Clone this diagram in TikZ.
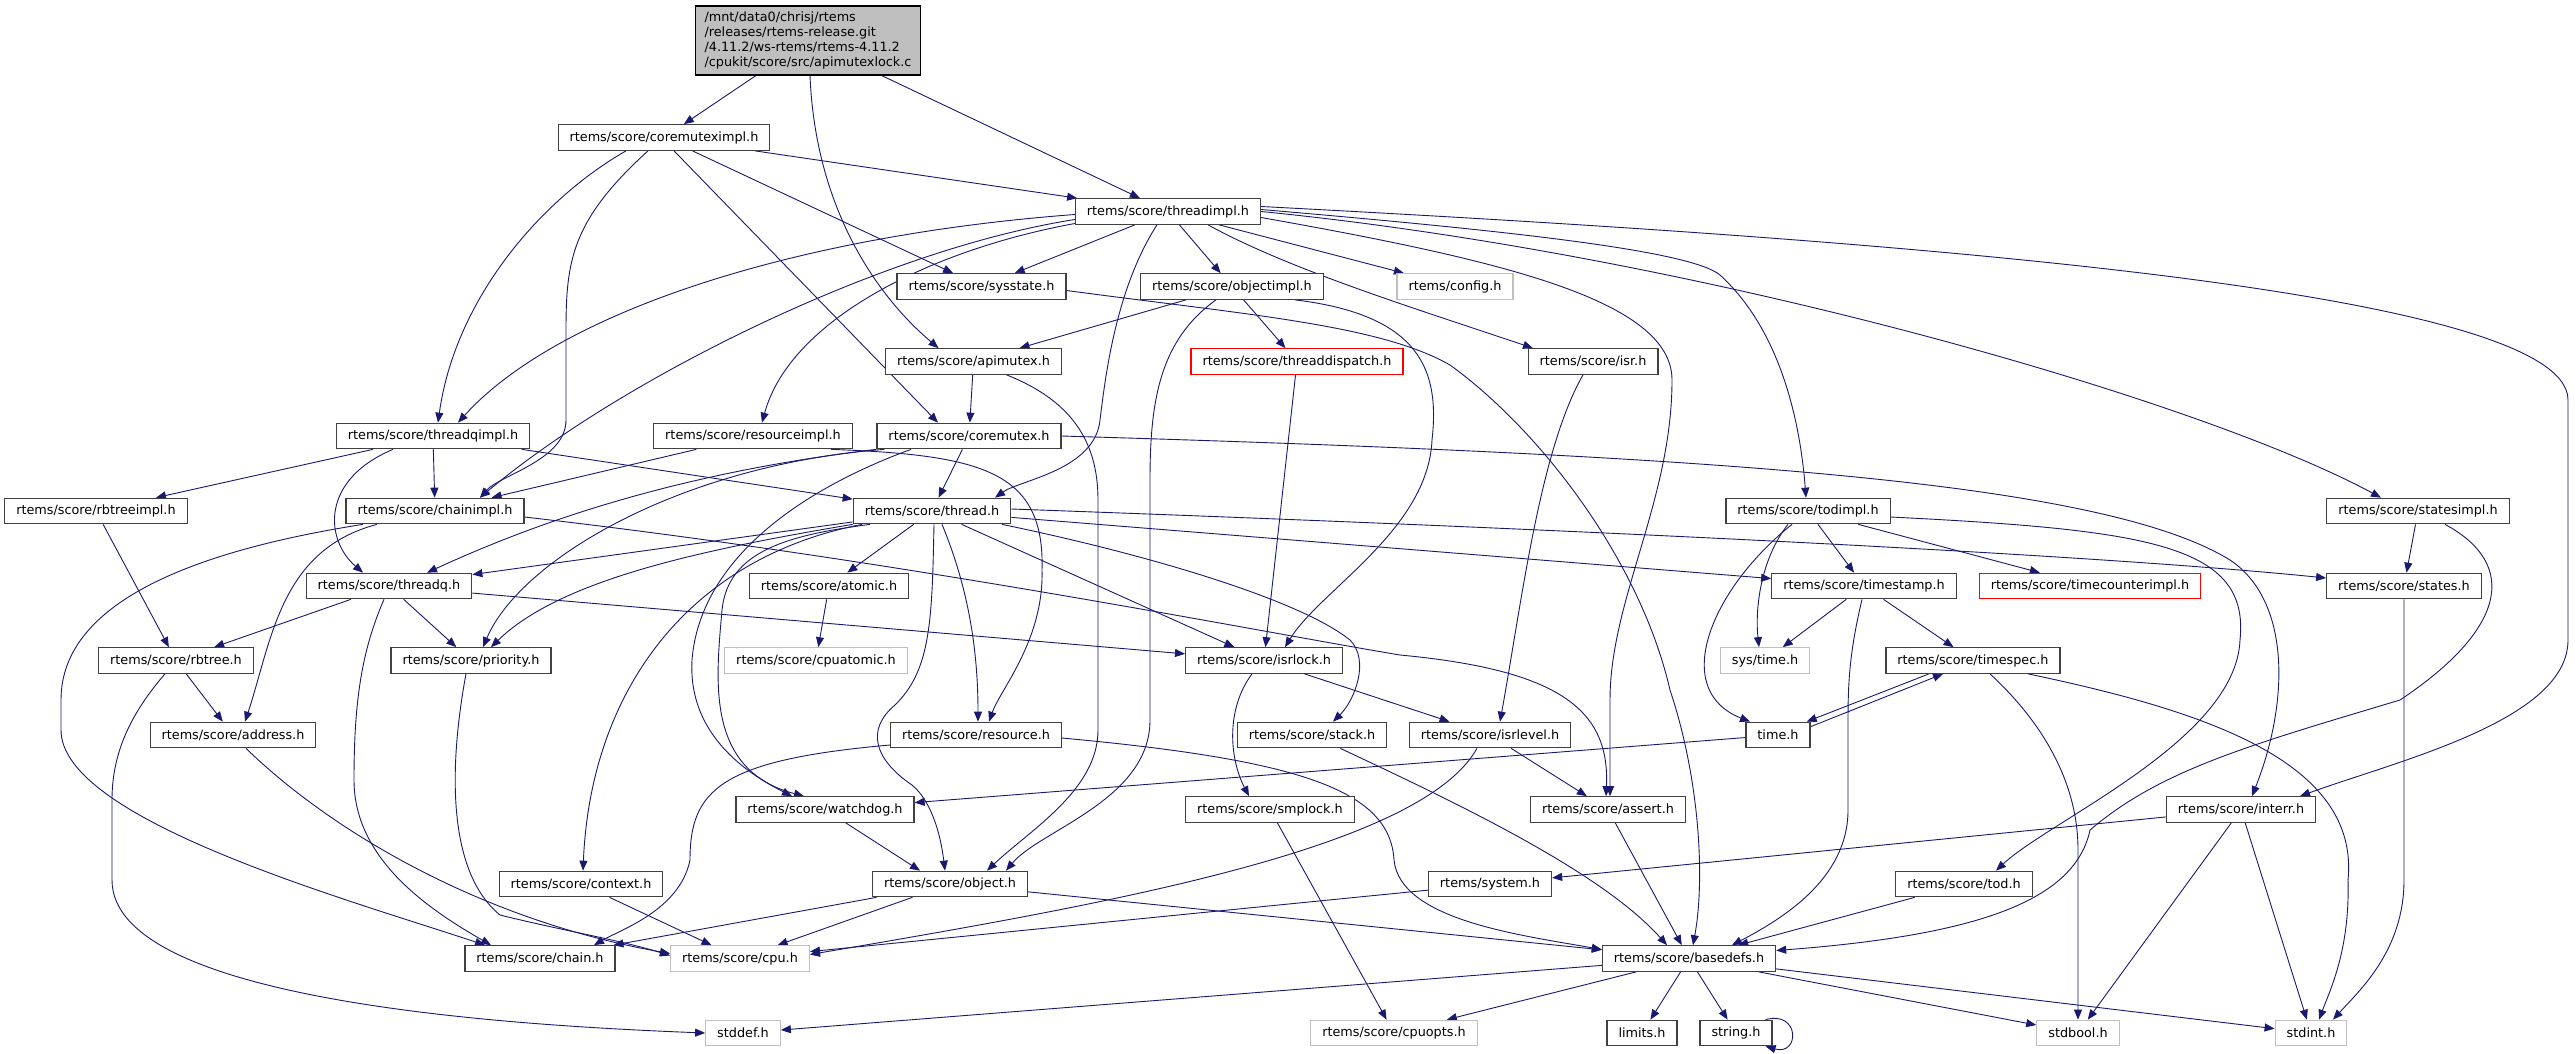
\documentclass[tikz,border=0pt]{standalone}
\usepackage{fontspec}
\newfontfamily\graphfont{DejaVu Sans}
\usetikzlibrary{arrows.meta,backgrounds}
\definecolor{edgeblue}{HTML}{191970}
\definecolor{boxgray}{HTML}{BFBFBF}
\newcommand{\incfont}{\graphfont\fontsize{12.8pt}{15pt}\selectfont}

\begin{document}
\begin{tikzpicture}[x=1pt, y=-1pt,
    hdr/.style={draw=black!75, line width=1.2pt, fill=white, font=\incfont,
      inner xsep=11.5pt, inner ysep=0pt, minimum height=25.5pt},
    syshdr/.style={hdr, draw=boxgray},
    redhdr/.style={hdr, draw=red},
    inc/.style={draw=edgeblue, line width=0.9pt, -{Triangle[length=10pt,width=8pt]}}]
    \useasboundingbox (0,0) rectangle (2575,1053);

    \node[hdr, fill=boxgray, draw=black, align=left, inner xsep=9pt, minimum height=69pt] (apimutexlock) at (808,40.5)
      {/mnt/data0/chrisj/rtems\\/releases/rtems-release.git\\/4.11.2/ws-rtems/rtems-4.11.2\\/cpukit/score/src/apimutexlock.c};
    \node[hdr] (coremuteximpl) at (664,137.5) {rtems/score/coremuteximpl.h};
    \node[hdr] (threadimpl) at (1168,211.5) {rtems/score/threadimpl.h};
    \node[hdr] (sysstate) at (981.5,286.5) {rtems/score/sysstate.h};
    \node[hdr] (objectimpl) at (1232,286.5) {rtems/score/objectimpl.h};
    \node[syshdr] (config) at (1455,286.5) {rtems/config.h};
    \node[hdr] (apimutex) at (973.5,361.5) {rtems/score/apimutex.h};
    \node[redhdr] (threaddispatch) at (1297,361.5) {rtems/score/threaddispatch.h};
    \node[hdr] (isr) at (1593,361.5) {rtems/score/isr.h};
    \node[hdr] (threadqimpl) at (433,436) {rtems/score/threadqimpl.h};
    \node[hdr] (resourceimpl) at (753,436) {rtems/score/resourceimpl.h};
    \node[hdr] (coremutex) at (969,436) {rtems/score/coremutex.h};
    \node[hdr] (rbtreeimpl) at (96,511) {rtems/score/rbtreeimpl.h};
    \node[hdr] (chainimpl) at (435,511) {rtems/score/chainimpl.h};
    \node[hdr] (thread) at (932,511) {rtems/score/thread.h};
    \node[hdr] (todimpl) at (1808,511) {rtems/score/todimpl.h};
    \node[hdr] (statesimpl) at (2418,511) {rtems/score/statesimpl.h};
    \node[hdr] (threadq) at (389,586) {rtems/score/threadq.h};
    \node[hdr] (atomic) at (829,586) {rtems/score/atomic.h};
    \node[hdr] (timestamp) at (1864,586) {rtems/score/timestamp.h};
    \node[redhdr] (timecounterimpl) at (2090,586) {rtems/score/timecounterimpl.h};
    \node[hdr] (states) at (2404,586) {rtems/score/states.h};
    \node[hdr] (rbtree) at (176,660.5) {rtems/score/rbtree.h};
    \node[hdr] (priority) at (471,660.5) {rtems/score/priority.h};
    \node[syshdr] (cpuatomic) at (816,660.5) {rtems/score/cpuatomic.h};
    \node[hdr] (isrlock) at (1264,660.5) {rtems/score/isrlock.h};
    \node[syshdr] (systime) at (1765,660.5) {sys/time.h};
    \node[hdr] (timespec) at (1973,660.5) {rtems/score/timespec.h};
    \node[hdr] (address) at (233,735) {rtems/score/address.h};
    \node[hdr] (resource) at (976,735) {rtems/score/resource.h};
    \node[hdr] (stack) at (1312,735) {rtems/score/stack.h};
    \node[hdr] (isrlevel) at (1490,735) {rtems/score/isrlevel.h};
    \node[hdr] (time) at (1778,735) {time.h};
    \node[hdr] (watchdog) at (825,809.5) {rtems/score/watchdog.h};
    \node[hdr] (smplock) at (1270,809.5) {rtems/score/smplock.h};
    \node[hdr] (assert) at (1608,809.5) {rtems/score/assert.h};
    \node[hdr] (interr) at (2241,809.5) {rtems/score/interr.h};
    \node[hdr] (context) at (581,884) {rtems/score/context.h};
    \node[hdr] (object) at (950,884) {rtems/score/object.h};
    \node[hdr] (system) at (1490,884) {rtems/system.h};
    \node[hdr] (tod) at (1964,884) {rtems/score/tod.h};
    \node[hdr] (chain) at (540,958.5) {rtems/score/chain.h};
    \node[syshdr] (cpu) at (740,958.5) {rtems/score/cpu.h};
    \node[hdr] (basedefs) at (1689,958.5) {rtems/score/basedefs.h};
    \node[syshdr] (stddef) at (743,1033) {stddef.h};
    \node[syshdr] (cpuopts) at (1394,1033) {rtems/score/cpuopts.h};
    \node[hdr] (limits) at (1642,1033) {limits.h};
    \node[hdr] (string) at (1736,1033) {string.h};
    \node[syshdr] (stdbool) at (2078,1033) {stdbool.h};
    \node[syshdr] (stdint) at (2311,1033) {stdint.h};

    % インクルード関係を引く
    \begin{scope}[on background layer]
    \fill[white] (0,0) rectangle (2575,1053);
    \draw[inc] (apimutexlock) -- (coremuteximpl);
    \draw[inc] (apimutexlock) -- (threadimpl);
    \draw[inc] ([xshift=2pt]apimutexlock.south) .. controls (815,200) and (870,290) .. ([xshift=-35pt]apimutex.north);
    \draw[inc] (coremuteximpl) -- (threadimpl);
    \draw[inc] (coremuteximpl) -- (sysstate);
    \draw[inc] ([xshift=-38pt]coremuteximpl.south) .. controls (540,200) and (455,300) .. ([xshift=5pt]threadqimpl.north);
    \draw[inc] ([xshift=-16pt]coremuteximpl.south) .. controls (572,220) and (566,260) .. (566,330) -- (566,420) .. controls (566,460) and (500,475) .. ([xshift=45pt]chainimpl.north);
    \draw[inc] ([xshift=10pt]coremuteximpl.south) -- ([xshift=-31pt]coremutex.north);
    \draw[inc] (threadimpl) -- (sysstate);
    \draw[inc] (threadimpl) -- (objectimpl);
    \draw[inc] (threadimpl) -- (config);
    \draw[inc] ([xshift=40pt]threadimpl.south) .. controls (1290,270) and (1420,310) .. ([xshift=-60pt]isr.north);
    \draw[inc] ([xshift=-11pt]threadimpl.south) .. controls (1115,290) and (1105,380) .. (1100,420) .. controls (1095,470) and (1020,480) .. ([xshift=63pt]thread.north);
    \draw[inc] ([yshift=-3pt]threadimpl.west) .. controls (800,235) and (560,310) .. ([xshift=25pt]threadqimpl.north);
    \draw[inc] ([yshift=-8pt]threadimpl.west) .. controls (880,250) and (620,380) .. ([xshift=45pt]chainimpl.north);
    \draw[inc] ([yshift=-12pt]threadimpl.west) .. controls (930,250) and (790,320) .. ([xshift=9pt]resourceimpl.north);
    \draw[inc] ([yshift=2pt]threadimpl.east) .. controls (1500,230) and (1690,250) .. (1720,275) .. controls (1780,330) and (1800,420) .. ([xshift=-2pt]todimpl.north);
    \draw[inc] (threadimpl.east) .. controls (1700,255) and (2200,400) .. ([xshift=-37pt]statesimpl.north);
    \draw[inc] ([yshift=5pt]threadimpl.east) .. controls (1900,240) and (2568,290) .. (2568,400) -- (2568,640) .. controls (2568,720) and (2400,760) .. ([xshift=59pt]interr.north);
    \draw[inc] ([yshift=-6pt]threadimpl.east) .. controls (1500,260) and (1672,300) .. (1672,380) .. controls (1672,500) and (1610,600) .. (1610,700) -- ([xshift=2pt]assert.north);
    \draw[inc] ([yshift=-4pt]sysstate.east) .. controls (1250,315) and (1380,325) .. (1450,365) .. controls (1540,430) and (1640,560) .. (1670,690) .. controls (1700,780) and (1705,880) .. ([xshift=4pt]basedefs.north);
    \draw[inc] (objectimpl) -- (apimutex);
    \draw[inc] (objectimpl) -- (threaddispatch);
    \draw[inc] ([xshift=-16pt]objectimpl.south) .. controls (1160,340) and (1150,400) .. (1150,480) -- (1150,720) .. controls (1150,800) and (1040,830) .. ([xshift=56pt]object.north);
    \draw[inc] ([xshift=63pt]objectimpl.south) .. controls (1420,315) and (1440,370) .. (1432,440) .. controls (1428,530) and (1320,590) .. ([xshift=21pt]isrlock.north);
    \draw[inc] (apimutex) -- (coremutex);
    \draw[inc] ([xshift=33pt]apimutex.south) .. controls (1070,400) and (1098,440) .. (1098,500) -- (1098,730) .. controls (1098,790) and (1030,830) .. ([xshift=37pt]object.north);
    \draw[inc] (threaddispatch) -- (isrlock);
    \draw[inc] ([xshift=-10pt]isr.south) .. controls (1540,450) and (1522,600) .. ([xshift=10pt]isrlevel.north);
    \draw[inc] (threadqimpl) -- (rbtreeimpl);
    \draw[inc] (threadqimpl) -- (chainimpl);
    \draw[inc] ([xshift=-40pt]threadqimpl.south) .. controls (320,480) and (325,540) .. ([xshift=-26pt]threadq.north);
    \draw[inc] (threadqimpl) -- (thread);
    \draw[inc] (resourceimpl) -- (chainimpl);
    \draw[inc] ([xshift=78pt]resourceimpl.south) .. controls (980,455) and (1045,470) .. (1042,570) .. controls (1044,640) and (1000,690) .. ([xshift=13pt]resource.north);
    \draw[inc] (coremutex) -- (thread);
    \draw[inc] (coremutex.south west) .. controls (660,475) and (520,530) .. ([xshift=38pt]threadq.north);
    \draw[inc] ([xshift=8pt]coremutex.south west) .. controls (680,465) and (520,560) .. ([xshift=12pt]priority.north);
    \draw[inc] ([xshift=-58pt]coremutex.south) .. controls (800,490) and (700,560) .. (692,660) .. controls (688,730) and (740,770) .. ([xshift=-33pt]watchdog.north);
    \draw[inc] (coremutex.east) .. controls (1700,455) and (2100,480) .. (2230,560) .. controls (2290,600) and (2290,700) .. ([xshift=11pt]interr.north);
    \draw[inc] (rbtreeimpl) -- (rbtree);
    \draw[inc] ([xshift=-72pt]chainimpl.south) .. controls (200,550) and (61,600) .. (61,700) -- (61,730) .. controls (61,820) and (350,900) .. ([xshift=-55pt]chain.north);
    \draw[inc] ([xshift=-58pt]chainimpl.south) .. controls (280,550) and (272,640) .. ([xshift=12pt]address.north);
    \draw[inc] ([yshift=-6pt]chainimpl.east) .. controls (900,560) and (1250,630) .. (1400,655) .. controls (1560,670) and (1610,710) .. ([xshift=-2pt]assert.north);
    \draw[inc] (thread) -- (threadq);
    \draw[inc] (thread.south west) .. controls (700,550) and (560,580) .. ([xshift=20pt]priority.north);
    \draw[inc] (thread) -- (atomic);
    \draw[inc] ([xshift=-70pt]thread.south) .. controls (680,560) and (590,700) .. ([xshift=2pt]context.north);
    \draw[inc] ([xshift=-62pt]thread.south) .. controls (790,535) and (728,550) .. (722,610) .. controls (716,680) and (705,770) .. ([xshift=-21pt]watchdog.north);
    \draw[inc] ([xshift=2pt]thread.south) .. controls (932,620) and (931,670) .. (895,705) .. controls (865,730) and (875,760) .. (912,785) .. controls (930,800) and (940,830) .. ([xshift=-5pt]object.north);
    \draw[inc] ([xshift=10pt]thread.south) .. controls (965,580) and (978,640) .. ([xshift=2pt]resource.north);
    \draw[inc] (thread) -- (isrlock);
    \draw[inc] ([xshift=70pt]thread.south) .. controls (1150,555) and (1300,600) .. (1350,640) .. controls (1370,660) and (1355,700) .. ([xshift=21pt]stack.north);
    \draw[inc] (thread) -- (timestamp);
    \draw[inc] ([yshift=2pt]thread.east) .. controls (1600,530) and (2100,555) .. ([yshift=8pt]states.west);
    \draw[inc] (todimpl) -- (timestamp);
    \draw[inc] (todimpl) -- (timecounterimpl);
    \draw[inc] ([xshift=-20pt]todimpl.south) .. controls (1760,560) and (1755,610) .. ([xshift=-6pt]systime.north);
    \draw[inc] ([xshift=-16pt]todimpl.south) .. controls (1710,590) and (1670,690) .. ([xshift=-28pt]time.north);
    \draw[inc] ([yshift=-6pt]todimpl.east) .. controls (2150,530) and (2250,545) .. (2240,640) .. controls (2236,740) and (2050,820) .. ([xshift=32pt]tod.north);
    \draw[inc] (statesimpl) -- (states);
    \draw[inc] ([xshift=27pt]statesimpl.south) .. controls (2520,565) and (2505,630) .. (2400,700) .. controls (2250,745) and (2160,770) .. (2090,830) .. controls (2075,900) and (1980,935) .. ([yshift=8pt]basedefs.east);
    \draw[inc] (states.south) -- (2404,880) .. controls (2404,950) and (2360,990) .. ([xshift=22pt]stdint.north);
    \draw[inc] (timestamp) -- (systime);
    \draw[inc] (timestamp) -- (timespec);
    \draw[inc] ([xshift=-2pt]timestamp.south) .. controls (1850,650) and (1848,680) .. (1848,720) -- (1848,810) .. controls (1848,880) and (1780,920) .. ([xshift=43pt]basedefs.north);
    \draw[inc] ([xshift=-44pt]timespec.south) -- ([xshift=-4pt]time.north east);
    \draw[inc] ([yshift=-5pt]time.north east) -- ([xshift=-30pt]timespec.south);
    \draw[inc] ([xshift=17pt]timespec.south) .. controls (2040,720) and (2078,780) .. (2078,850) -- (stdbool.north);
    \draw[inc] ([xshift=55pt]timespec.south) .. controls (2200,710) and (2360,760) .. (2348,880) .. controls (2350,950) and (2330,990) .. ([xshift=8pt]stdint.north);
    \draw[inc] (isrlock) -- (isrlevel);
    \draw[inc] ([xshift=-12pt]isrlock.south) .. controls (1225,710) and (1230,760) .. ([xshift=-21pt]smplock.north);
    \draw[inc] (rbtree) -- (address);
    \draw[inc] ([xshift=-11pt]rbtree.south) .. controls (125,720) and (112,760) .. (112,800) -- (112,880) .. controls (112,1000) and (500,1025) .. (stddef.west);
    \draw[inc] ([xshift=13pt]address.south) .. controls (330,830) and (480,920) .. ([yshift=5pt]cpu.west);
    \draw[inc] ([xshift=-5pt]priority.south) .. controls (450,760) and (445,870) .. (500,915) .. controls (560,930) and (620,940) .. ([yshift=3pt]cpu.west);
    \draw[inc] (threadq) -- (rbtree);
    \draw[inc] (threadq) -- (priority);
    \draw[inc] ([xshift=-5pt]threadq.south) .. controls (362,650) and (354,700) .. (354,780) .. controls (354,860) and (430,910) .. ([xshift=-49pt]chain.north);
    \draw[inc] (threadq) -- (isrlock);
    \draw[inc] (atomic) -- (cpuatomic);
    \draw[inc] ([yshift=-10pt]resource.west) .. controls (720,760) and (690,790) .. (690,860) .. controls (680,910) and (620,930) .. ([xshift=54pt]chain.north);
    \draw[inc] ([yshift=-3pt]resource.east) .. controls (1300,760) and (1390,790) .. (1394,860) .. controls (1400,920) and (1520,935) .. ([yshift=9pt]basedefs.west);
    \draw[inc] (stack) .. controls (1450,800) and (1600,870) .. ([xshift=-22pt]basedefs.north);
    \draw[inc] (isrlevel) -- (assert);
    \draw[inc] ([xshift=-13pt]isrlevel.south) .. controls (1420,850) and (1100,905) .. ([yshift=4pt]cpu.east);
    \draw[inc] (smplock) -- (cpuopts);
    \draw[inc] (assert) -- (basedefs);
    \draw[inc] (watchdog) -- ([xshift=-30pt]object.north);
    \draw[inc] (time) -- (watchdog);
    \draw[inc] (interr) -- (system);
    \draw[inc] (interr) -- (stdbool);
    \draw[inc] (interr) -- (stdint);
    \draw[inc] (context) -- (cpu);
    \draw[inc] (object) -- (chain);
    \draw[inc] (object) -- (cpu);
    \draw[inc] (object) -- (basedefs);
    \draw[inc] (system) -- (cpu);
    \draw[inc] (tod) -- (basedefs);
    \draw[inc] (basedefs) -- (stddef);
    \draw[inc] (basedefs) -- (cpuopts);
    \draw[inc] (basedefs) -- (limits);
    \draw[inc] (basedefs) -- (string);
    \draw[inc] (basedefs) -- (stdbool);
    \draw[inc] (basedefs) -- (stdint);
    \draw[inc] ([xshift=-7pt]string.north east) .. controls (1800,1010) and (1800,1056) .. ([xshift=-7pt]string.south east);
    \end{scope}
\end{tikzpicture}
\end{document}
